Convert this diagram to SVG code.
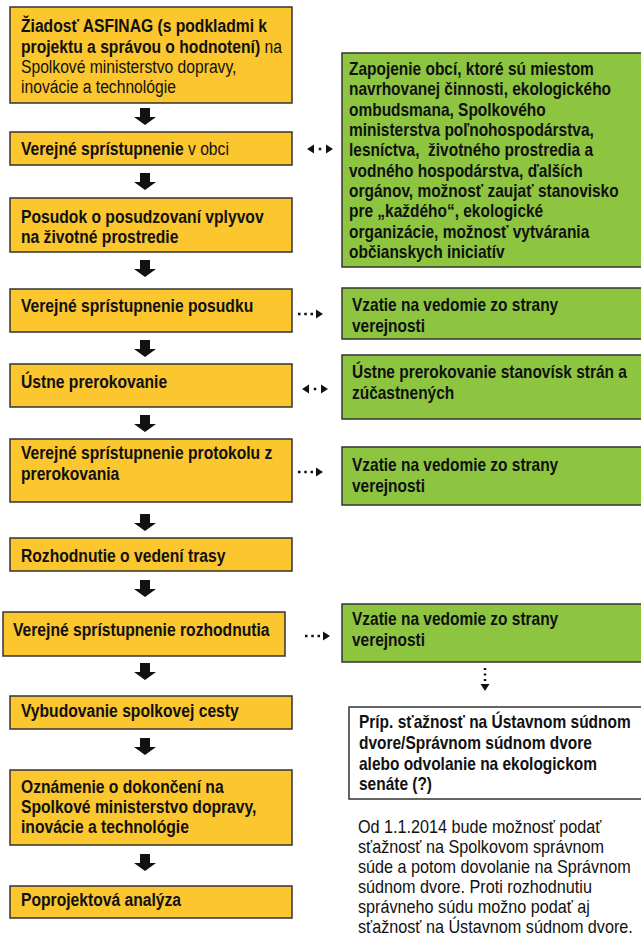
<svg xmlns="http://www.w3.org/2000/svg" width="641" height="937" viewBox="0 0 641 937">
<style>
.box{stroke:#333;stroke-width:1.5}
.o{fill:#FBC62E}
.g{fill:#8DC540}
.w{fill:#fff}
text{font-family:"Liberation Sans",Arial,sans-serif;font-size:18px;fill:#111}
.b{font-weight:bold}
.n{font-weight:normal}
.arr{fill:#111}
.dot{stroke:#111;stroke-width:2.5;fill:none}
</style>
<defs>
<path id="down" d="M-5,0 H5 V9 H11 L0,17 L-11,9 H-5 Z"/>
<marker id="tri" markerUnits="userSpaceOnUse" markerWidth="12" markerHeight="10" refX="-3" refY="4.5" orient="auto-start-reverse" overflow="visible">
<path d="M0,0 L7,4.5 L0,9 Z" fill="#111"/>
</marker>
<marker id="tri0" markerUnits="userSpaceOnUse" markerWidth="12" markerHeight="10" refX="0" refY="4.5" orient="auto-start-reverse" overflow="visible">
<path d="M0,0 L7,4.5 L0,9 Z" fill="#111"/>
</marker>
</defs>

<g id="n1"><rect class="box o" x="10" y="7" width="282" height="96"/>
<g transform="translate(21 0) scale(0.87 1)"><text class="b" y="32">Žiadosť ASFINAG (s podkladmi k</text><text class="b" y="53">projektu a správou o hodnotení)<tspan class="n"> na</tspan></text><text y="73">Spolkové ministerstvo dopravy,</text><text y="93">inovácie a technológie</text></g></g>

<g id="n2"><rect class="box o" x="10" y="132" width="282" height="33"/>
<g transform="translate(21 0) scale(0.87 1)"><text class="b" y="155">Verejné sprístupnenie<tspan class="n"> v obci</tspan></text></g></g>

<g id="n3"><rect class="box o" x="10" y="198" width="282" height="54"/>
<g transform="translate(21 0) scale(0.87 1)"><text class="b" y="223">Posudok o posudzovaní vplyvov</text><text class="b" y="243">na životné prostredie</text></g></g>

<g id="n4"><rect class="box o" x="10" y="289" width="282" height="43"/>
<g transform="translate(21 0) scale(0.87 1)"><text class="b" y="312">Verejné sprístupnenie posudku</text></g></g>

<g id="n5"><rect class="box o" x="10" y="364" width="282" height="43"/>
<g transform="translate(21 0) scale(0.87 1)"><text class="b" y="388">Ústne prerokovanie</text></g></g>

<g id="n6"><rect class="box o" x="10" y="439" width="282" height="63"/>
<g transform="translate(21 0) scale(0.87 1)"><text class="b" y="459">Verejné sprístupnenie protokolu z</text><text class="b" y="480">prerokovania</text></g></g>

<g id="n7"><rect class="box o" x="10" y="538" width="282" height="33"/>
<g transform="translate(21 0) scale(0.87 1)"><text class="b" y="562">Rozhodnutie o vedení trasy</text></g></g>

<g id="n8"><rect class="box o" x="3" y="612" width="282" height="44"/>
<g transform="translate(13 0) scale(0.87 1)"><text class="b" y="636">Verejné sprístupnenie rozhodnutia</text></g></g>

<g id="n9"><rect class="box o" x="10" y="696" width="282" height="33"/>
<g transform="translate(21 0) scale(0.87 1)"><text class="b" y="717">Vybudovanie spolkovej cesty</text></g></g>

<g id="n10"><rect class="box o" x="10" y="770" width="282" height="75"/>
<g transform="translate(21 0) scale(0.87 1)"><text class="b" y="793">Oznámenie o dokončení na</text><text class="b" y="813">Spolkové ministerstvo dopravy,</text><text class="b" y="833">inovácie a technológie</text></g></g>

<g id="n11"><rect class="box o" x="10" y="886" width="282" height="32"/>
<g transform="translate(21 0) scale(0.87 1)"><text class="b" y="906">Poprojektová analýza</text></g></g>

<g id="g1"><rect class="box g" x="342" y="53" width="302" height="214"/>
<g transform="translate(349 0) scale(0.86 1)">
<text class="b" y="75">Zapojenie obcí, ktoré sú miestom</text>
<text class="b" y="95.3">navrhovanej činnosti, ekologického</text>
<text class="b" y="115.7">ombudsmana, Spolkového</text>
<text class="b" y="136">ministerstva poľnohospodárstva,</text>
<text class="b" y="156.3" xml:space="preserve">lesníctva,  životného prostredia a</text>
<text class="b" y="176.7">vodného hospodárstva, ďalších</text>
<text class="b" y="197">orgánov, možnosť zaujať stanovisko</text>
<text class="b" y="217.3">pre „každého“, ekologické</text>
<text class="b" y="237.7">organizácie, možnosť vytvárania</text>
<text class="b" y="258">občianskych iniciatív</text>
</g></g>

<g id="g2"><rect class="box g" x="342" y="288" width="302" height="51"/>
<g transform="translate(352 0) scale(0.86 1)"><text class="b" y="311">Vzatie na vedomie zo strany</text><text class="b" y="332">verejnosti</text></g></g>

<g id="g3"><rect class="box g" x="342" y="355" width="302" height="64"/>
<g transform="translate(352 0) scale(0.86 1)"><text class="b" y="378">Ústne prerokovanie stanovísk strán a</text><text class="b" y="399">zúčastnených</text></g></g>

<g id="g4"><rect class="box g" x="342" y="447" width="302" height="58"/>
<g transform="translate(352 0) scale(0.86 1)"><text class="b" y="471">Vzatie na vedomie zo strany</text><text class="b" y="492">verejnosti</text></g></g>

<g id="g5"><rect class="box g" x="342" y="604" width="302" height="58"/>
<g transform="translate(352 0) scale(0.86 1)"><text class="b" y="625">Vzatie na vedomie zo strany</text><text class="b" y="646">verejnosti</text></g></g>

<g id="w1"><rect class="box w" x="349" y="707" width="295" height="92"/>
<g transform="translate(359 0) scale(0.86 1)"><text class="b" y="728">Príp. sťažnosť na Ústavnom súdnom</text><text class="b" y="749">dvore/Správnom súdnom dvore</text><text class="b" y="770">alebo odvolanie na ekologickom</text><text class="b" y="790">senáte (?)</text></g></g>

<g id="note"><g transform="translate(358 0) scale(0.9 1)">
<text y="833">Od 1.1.2014 bude možnosť podať</text>
<text y="853">sťažnosť na Spolkovom správnom</text>
<text y="873">súde a potom dovolanie na Správnom</text>
<text y="893">súdnom dvore. Proti rozhodnutiu</text>
<text y="913">správneho súdu možno podať aj</text>
<text y="933">sťažnosť na Ústavnom súdnom dvore.</text>
</g></g>

<g id="connectors">
<use href="#down" class="arr" x="145" y="108"/>
<use href="#down" class="arr" x="145" y="173"/>
<use href="#down" class="arr" x="145" y="260"/>
<use href="#down" class="arr" x="145" y="340"/>
<use href="#down" class="arr" x="145" y="415"/>
<use href="#down" class="arr" x="145" y="514"/>
<use href="#down" class="arr" x="145" y="580"/>
<use href="#down" class="arr" x="145" y="663"/>
<use href="#down" class="arr" x="145" y="738"/>
<use href="#down" class="arr" x="145" y="854"/>
<path class="dot" d="M314,149 H326" stroke-dasharray="0 4.75 2.5 10" marker-start="url(#tri0)" marker-end="url(#tri0)"/>
<path class="dot" d="M298,314 H313" stroke-dasharray="2.5 3.75" marker-end="url(#tri)"/>
<path class="dot" d="M309,389 H321" stroke-dasharray="0 4.75 2.5 10" marker-start="url(#tri0)" marker-end="url(#tri0)"/>
<path class="dot" d="M298,472 H313" stroke-dasharray="2.5 3.75" marker-end="url(#tri)"/>
<path class="dot" d="M305,636 H320" stroke-dasharray="2.5 3.75" marker-end="url(#tri)"/>
<path class="dot" d="M485,668 V681" stroke-dasharray="2 3.5" marker-end="url(#tri)"/>
</g>
</svg>
